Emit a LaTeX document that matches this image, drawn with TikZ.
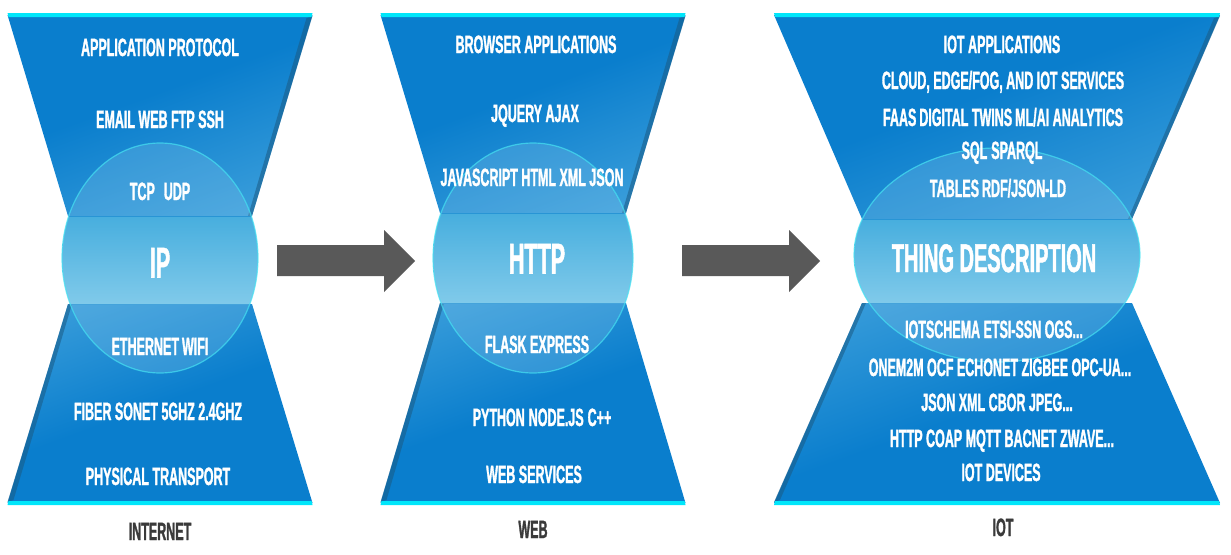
\documentclass[tikz,border=0pt]{standalone}
\usepackage{fontspec}
\newfontfamily\condfont[FakeStretch=0.5, FakeBold=1.2]{Liberation Sans}
\definecolor{glassdark}{HTML}{0A7ECD}
\definecolor{glassmid}{HTML}{3C9FDB}
\definecolor{glasslight}{HTML}{92CDEE}
\definecolor{glassrim}{HTML}{00E6FA}
\definecolor{glassedge}{HTML}{1A5A84}
\definecolor{bandtop}{HTML}{47AEDE}
\definecolor{bandbottom}{HTML}{80CAEA}
\definecolor{orbline}{HTML}{45E2F2}
\definecolor{arrowgray}{HTML}{595959}
\definecolor{captiongray}{HTML}{3A3A3A}
\pgfdeclareverticalshading{uppercone}{100bp}{color(0bp)=(glasslight); color(22bp)=(glassmid); color(55bp)=(glassdark); color(100bp)=(glassdark)}
\pgfdeclareverticalshading{lowercone}{100bp}{color(0bp)=(glassdark); color(50bp)=(glassdark); color(80bp)=(glassmid); color(100bp)=(glasslight)}

% #1 centre x, #2 half width at rim, #3 half width at waist,
% #4 upper waist y, #5 lower waist y, #6 orb centre y, #7 orb x radius, #8 orb y radius
\newcommand{\hourglass}[8]{%
  % upper cone
  \shade[shading=uppercone, shading angle=20]
    ({#1-#2},15) -- ({#1+#2},15) -- ({#1+#3},#4) -- ({#1-#3},#4) -- cycle;
  \fill[glassedge, opacity=.55] ({#1+#2},16) -- ({#1+#3},#4) -- ({#1+#3-4},#4) -- ({#1+#2-6},18) -- cycle;
  \fill[glassrim] ({#1-#2},13) -- ({#1+#2},13) -- ({#1+#2-1},17) -- ({#1-#2+1},17) -- cycle;
  % lower cone
  \shade[shading=lowercone, shading angle=20]
    ({#1-#3},#5) -- ({#1+#3},#5) -- ({#1+#2},503) -- ({#1-#2},503) -- cycle;
  \fill[glassedge, opacity=.55] ({#1-#3},#5) -- ({#1-#2},502) -- ({#1-#2+6},500) -- ({#1-#3+4},#5) -- cycle;
  \fill[glassrim] ({#1-#2+1},501) -- ({#1+#2-1},501) -- ({#1+#2},505) -- ({#1-#2},505) -- cycle;
  % orb
  \begin{scope}
    \clip (#1,#6) ellipse [x radius=#7, y radius=#8];
    \fill[glasslight, opacity=.25] (#1,#6) ellipse [x radius=#7, y radius=#8];
    \shade[top color=bandtop, bottom color=bandbottom] ({#1-#7},#4) rectangle ({#1+#7},#5);
    \draw[glassdark, opacity=.5] ({#1-#7},#4) -- ({#1+#7},#4) ({#1-#7},#5) -- ({#1+#7},#5);
  \end{scope}
  \draw[orbline, line width=1.2pt, opacity=.7] (#1,#6) ellipse [x radius=#7, y radius=#8];
}

\begin{document}
\begin{tikzpicture}[x=1pt, y=-1pt]
    % Define Styles
        \tikzstyle{stacktext} = [font=\condfont\bfseries\fontsize{25}{28}\selectfont, text=white, text height=18pt, text depth=0pt, inner sep=0pt]
        \tikzstyle{coretext} = [stacktext, font=\condfont\bfseries\fontsize{43}{48}\selectfont, text height=31pt]
        \tikzstyle{glasscaption} = [stacktext, text=captiongray]
        \tikzstyle{bigarrow} = [fill=arrowgray]
        \useasboundingbox (0,0) rectangle (1231,554);
    % Glasses
        \hourglass{160}{152.5}{92}{216}{304}{258}{98}{115}
        \hourglass{533}{152.5}{93}{213}{303}{258}{100}{115}
        \hourglass{997}{223}{135}{219}{303}{255}{143}{107}
    % Arrows
        \coordinate (toweb) at (277,260.5);
        \coordinate (toiot) at (682,260.5);
        \fill[bigarrow] (toweb) ++(0,-15.5) -- ++(107,0) -- ++(0,-15) -- ++(31,31) -- ++(-31,31) -- ++(0,-16) -- ++(-107,0) -- cycle;
        \fill[bigarrow] (toiot) ++(0,-15.5) -- ++(107,0) -- ++(0,-15) -- ++(31,31) -- ++(-31,31) -- ++(0,-16) -- ++(-107,0) -- cycle;
    % Internet stack
        \node [stacktext] (netapp) at (160,47) {APPLICATION PROTOCOL};
        \node [stacktext] (netmail) at (160,119) {EMAIL WEB FTP SSH};
        \node [stacktext] (nettcp) at (160,191) {TCP\hspace{9pt}UDP};
        \node [coretext] (netip) at (160,262) {IP};
        \node [stacktext] (neteth) at (160,346) {ETHERNET\hspace{3pt}WIFI};
        \node [stacktext] (netfiber) at (158,411) {FIBER SONET 5GHZ 2.4GHZ};
        \node [stacktext] (netphys) at (158,476) {PHYSICAL TRANSPORT};
        \node [glasscaption] (internet) at (160,531) {INTERNET};
    % Web stack
        \node [stacktext] (webapp) at (536,44) {BROWSER APPLICATIONS};
        \node [stacktext] (webjq) at (535,113) {JQUERY AJAX};
        \node [stacktext] (webjs) at (532,177) {JAVASCRIPT HTML XML JSON};
        \node [coretext] (webhttp) at (537,258) {HTTP};
        \node [stacktext] (webflask) at (537,344) {FLASK EXPRESS};
        \node [stacktext] (webpy) at (542,417) {PYTHON\hspace{4pt}NODE.JS\hspace{4pt}C++};
        \node [stacktext] (websvc) at (534,474) {WEB SERVICES};
        \node [glasscaption] (web) at (533,529) {WEB};
    % IoT stack
        \node [stacktext] (iotapp) at (1002,44) {IOT APPLICATIONS};
        \node [stacktext] (iotcloud) at (1003,80) {CLOUD, EDGE/FOG, AND IOT SERVICES};
        \node [stacktext] (iotfaas) at (1003,117) {FAAS\hspace{3pt}DIGITAL TWINS\hspace{3pt}ML/AI ANALYTICS};
        \node [stacktext] (iotsql) at (1002,150) {SQL\hspace{4pt}SPARQL};
        \node [stacktext] (iotrdf) at (998,188) {TABLES\hspace{3pt}RDF/JSON-LD};
        \node [coretext, font=\condfont\bfseries\fontsize{40}{44}\selectfont, text height=28pt] (iottd) at (994,258) {THING DESCRIPTION};
        \node [stacktext] (iotschema) at (994,329) {IOTSCHEMA ETSI-SSN OGS...};
        \node [stacktext] (iotonem) at (1000,367) {ONEM2M OCF ECHONET ZIGBEE OPC-UA...};
        \node [stacktext] (iotjson) at (997,402) {JSON XML CBOR JPEG...};
        \node [stacktext] (iothttp) at (1002,438) {HTTP COAP MQTT BACNET ZWAVE...};
        \node [stacktext] (iotdev) at (1001,472) {IOT DEVICES};
        \node [glasscaption] (iot) at (1003,527) {IOT};
\end{tikzpicture}
\end{document}
